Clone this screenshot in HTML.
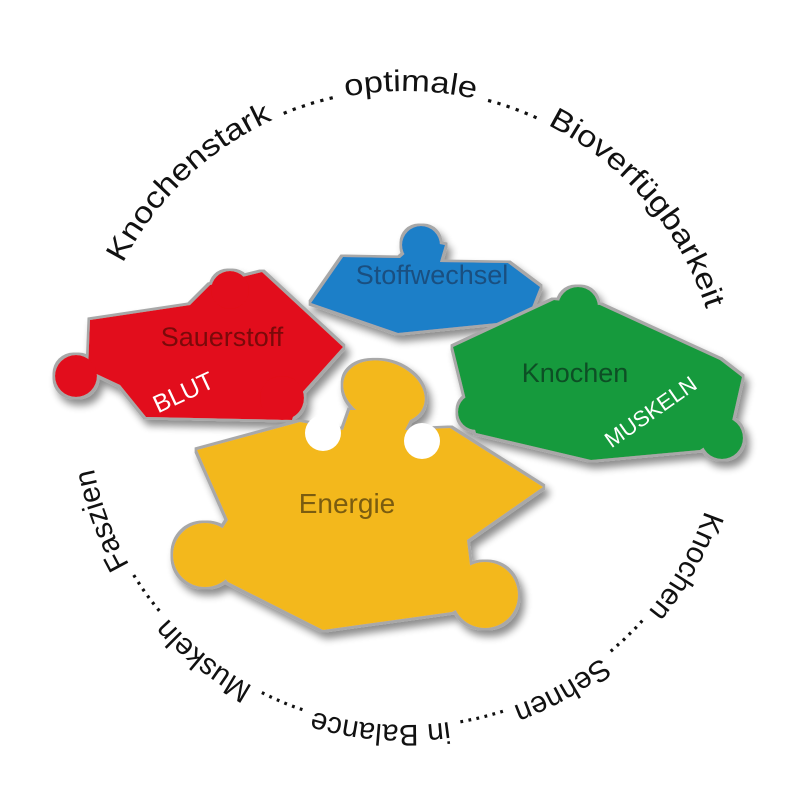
<!DOCTYPE html>
<html><head><meta charset="utf-8"><style>
html,body{margin:0;padding:0;background:#fff;width:800px;height:800px;overflow:hidden}
svg{display:block}
text{font-family:"Liberation Sans",sans-serif}
</style></head><body>
<svg width="800" height="800" viewBox="0 0 800 800" xmlns="http://www.w3.org/2000/svg">
<defs>
<path id="circ" d="M88,408 A317,317 0 1 1 722,408 A317,317 0 1 1 88,408"/>
<filter id="sh" x="-20%" y="-20%" width="140%" height="140%">
<feMorphology in="SourceAlpha" operator="dilate" radius="2.5" result="d"/>
<feFlood flood-color="#a8a8a8"/><feComposite in2="d" operator="in" result="border"/>
<feGaussianBlur in="d" stdDeviation="4"/><feOffset dx="4" dy="6"/>
<feComponentTransfer><feFuncA type="linear" slope="0.45"/></feComponentTransfer>
<feMerge><feMergeNode/><feMergeNode in="border"/><feMergeNode in="SourceGraphic"/></feMerge></filter>
</defs>
<text font-size="30" fill="#111"><textPath href="#circ" startOffset="150" textLength="745" lengthAdjust="spacingAndGlyphs">Knochenstark ...... optimale ...... Bioverfügbarkeit</textPath></text>
<text font-size="30" fill="#111"><textPath href="#circ" startOffset="1100" textLength="830" lengthAdjust="spacingAndGlyphs">Knochen ...... Sehnen ...... in Balance ...... Muskeln ...... Faszien</textPath></text>

<!-- blue -->
<g fill="#1d7fc8" filter="url(#sh)">
<polygon points="311,303 343,257 400,258 420,240 445,245 440,262 508,263 540,287 527,320 398,333"/>
<circle cx="421" cy="245" r="19"/>
</g>
<!-- red -->
<g fill="#e2101a" filter="url(#sh)">
<polygon points="90,320 190,305 210,285 262,272 343,347 300,395 292,420 146,417 120,385 88,370"/>
<circle cx="76" cy="376" r="21"/>
<circle cx="230" cy="290" r="19"/>
<circle cx="282" cy="398" r="22"/>
</g>
<!-- green -->
<g fill="#169a3e" filter="url(#sh)">
<polygon points="453,347 554,300 600,305 720,360 742,377 730,430 700,450 591,460 476,433 466,400"/>
<circle cx="578" cy="307" r="20"/>
<circle cx="722" cy="438" r="21"/>
<circle cx="476" cy="412" r="18"/>
</g>
<!-- yellow -->
<g fill="#f3b81c" filter="url(#sh)">
<polygon points="197,450 300,422 343,430 350,410 415,410 405,430 450,428 543,487 467,540 470,565 485,595 452,612 323,630 228,582 205,555 228,520"/>
<ellipse cx="384" cy="392" rx="42" ry="30" transform="rotate(20 384 392)"/>
<circle cx="485" cy="595" r="33"/>
<circle cx="205" cy="555" r="32"/>
</g>
<circle cx="323" cy="433" r="18" fill="#fff"/>
<circle cx="422" cy="441" r="18" fill="#fff"/>

<text x="222" y="346" font-size="27" fill="#7a0a0a" text-anchor="middle">Sauerstoff</text>
<text x="187" y="400" font-size="25" fill="#fff" text-anchor="middle" transform="rotate(-25 187 400)">BLUT</text>
<text x="432" y="284" font-size="27" fill="#1a4f80" text-anchor="middle">Stoffwechsel</text>
<text x="575" y="382" font-size="27" fill="#0d4f25" text-anchor="middle">Knochen</text>
<text x="655" y="418" font-size="22" fill="#fff" text-anchor="middle" transform="rotate(-35 655 418)">MUSKELN</text>
<text x="347" y="513" font-size="28" fill="#7a5c10" text-anchor="middle">Energie</text>
</svg>
</body></html>
